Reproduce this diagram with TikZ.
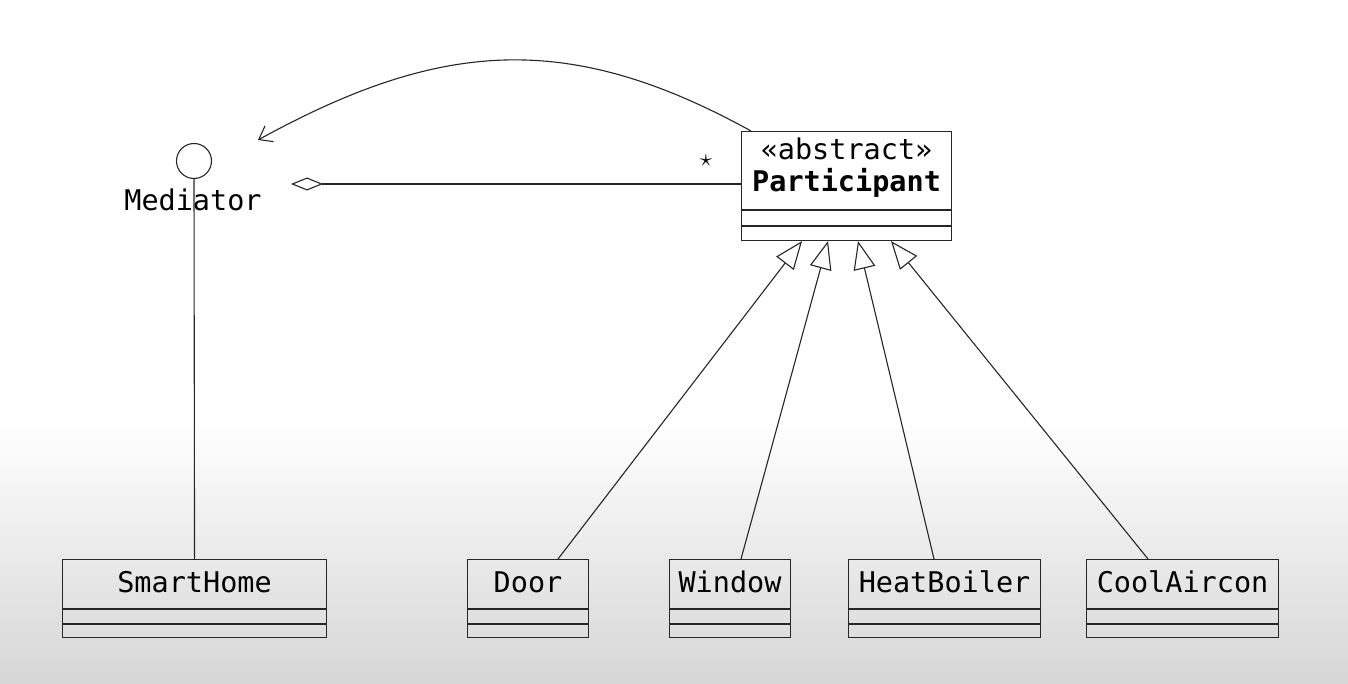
\documentclass[tikz,border=0pt]{standalone}
\usepackage{fontspec}
\setmonofont{DejaVu Sans Mono}
\usetikzlibrary{arrows.meta,calc}
\begin{document}
\begin{tikzpicture}[x=1pt,y=-1pt,
  ln/.style={draw=black!85, line width=1.1pt},
  cls/.style={ln, rectangle, inner sep=0pt, anchor=north west, minimum height=78},
  lbl/.style={font=\fontsize{28.5}{30}\selectfont\ttfamily, text=black, inner sep=0pt, anchor=base},
  gen/.style={ln, -{Triangle[length=28,width=22,fill=white]}},
  ]
\useasboundingbox (0,0) rectangle (1348,684);
\fill[white] (0,0) rectangle (1348,420);
\shade[top color=white, bottom color=black!16, draw=none] (0,420) rectangle (1348,684);

% class boxes
\newcommand\myclass[4]{%
  \node[cls, minimum width=#3] (#1) at (#2,559) {};
  \node[lbl] (#1-name) at ($(#1.north)+(0,33)$) {#4};
  \draw[ln] ($(#1.north west)+(0,50)$) -- ($(#1.north east)+(0,50)$);
  \draw[ln] ($(#1.north west)+(0,65)$) -- ($(#1.north east)+(0,65)$);
}
\myclass{home}{62}{264}{SmartHome}
\myclass{door}{467}{121}{Door}
\myclass{window}{669}{121}{Window}
\myclass{boiler}{848}{192}{HeatBoiler}
\myclass{aircon}{1086}{192}{CoolAircon}

% Participant
\node[ln, fill=white, rectangle, inner sep=0pt, anchor=north west, minimum width=210, minimum height=109] (part) at (741,131) {};
\node[lbl] (part-st) at ($(part.north)+(0,29)$) {«abstract»};
\node[lbl, font=\fontsize{28.5}{30}\selectfont\ttfamily\bfseries] (part-name) at ($(part.north)+(0,61)$) {Participant};
\draw[ln] ($(part.north west)+(0,79)$) -- ($(part.north east)+(0,79)$);
\draw[ln] ($(part.north west)+(0,95)$) -- ($(part.north east)+(0,95)$);

% Mediator interface
\node[ln, circle, minimum size=35, inner sep=0pt, fill=white] (med) at (194,161) {};
\node[lbl] (med-name) at (193,211) {Mediator};
\draw[ln] (med.south) -- (home.north);

% aggregation
\coordinate (agg) at (291,184);
\draw[ln, {Diamond[open,length=32,width=13]}-] (agg) -- (agg -| part.west);
\node[font=\fontsize{24}{24}\selectfont, inner sep=0pt] (mult) at (706,161) {$\star$};

% curved dependency
\coordinate (cend) at (258,140);
\draw[ln, -{Straight Barb[length=12,width=18]}] ($(part.north west)+(10,0)$) .. controls (568,30) and (440,40) .. (cend);

% generalizations
\draw[gen] ($(door.north west)+(91,0)$) -- ($(part.south west)+(61,0)$);
\draw[gen] ($(window.north west)+(72,0)$) -- ($(part.south west)+(87,0)$);
\draw[gen] ($(boiler.north west)+(86,0)$) -- ($(part.south west)+(117,0)$);
\draw[gen] ($(aircon.north west)+(62,0)$) -- ($(part.south west)+(150,0)$);
\end{tikzpicture}
\end{document}
